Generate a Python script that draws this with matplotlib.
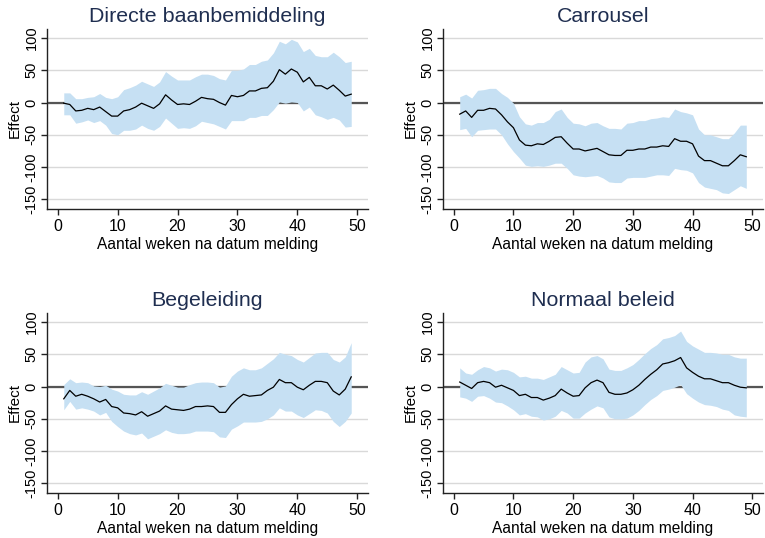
import matplotlib
matplotlib.use("Agg")
import matplotlib.pyplot as plt

plt.rcParams["font.family"] = ["Liberation Sans", "DejaVu Sans"]
plt.rcParams["axes.unicode_minus"] = False

weeks = list(range(1, 50))

titles = ["Directe baanbemiddeling", "Carrousel", "Begeleiding", "Normaal beleid"]

# Directe baanbemiddeling
est_dbb = [-1, -3, -13, -12, -9, -11, -7, -14, -21, -21, -13, -11, -7, -1, -5, -9, -2,
           12, 4, -3, -2, -3, 2, 8, 6, 5, 0, -4, 11, 9, 11, 18, 18, 22, 23, 33, 51, 44,
           52, 47, 32, 39, 26, 26, 21, 27, 19, 10, 13]
hi_dbb = [15, 15, 6, 6, 8, 9, 14, 8, 6, 9, 20, 23, 27, 33, 29, 25, 32, 48, 41, 35, 35,
          35, 40, 44, 44, 42, 37, 35, 50, 50, 52, 59, 59, 64, 66, 77, 95, 91, 98, 94,
          79, 84, 73, 71, 71, 78, 71, 62, 64]
lo_dbb = [-19, -19, -32, -30, -27, -31, -28, -35, -48, -50, -43, -43, -41, -35, -40,
          -43, -37, -24, -32, -40, -39, -40, -36, -29, -31, -33, -37, -41, -28, -28,
          -28, -23, -23, -20, -20, -11, 1, -1, 1, 0, -13, -7, -19, -22, -26, -23, -27,
          -38, -37]

# Carrousel
est_car = [-18, -13, -23, -12, -12, -9, -10, -19, -30, -39, -58, -66, -67, -64, -65,
           -60, -54, -53, -63, -72, -72, -75, -73, -71, -76, -81, -82, -82, -74, -74,
           -72, -72, -69, -69, -67, -68, -56, -60, -60, -64, -83, -90, -90, -94, -98,
           -98, -90, -81, -84]
hi_car = [9, 13, 7, 19, 20, 22, 22, 14, 8, -1, -22, -33, -35, -31, -31, -26, -14, -10,
          -23, -32, -33, -36, -32, -31, -36, -40, -40, -41, -32, -31, -28, -28, -25,
          -24, -22, -23, -10, -14, -16, -19, -41, -50, -50, -53, -56, -56, -47, -35,
          -35]
lo_car = [-42, -40, -53, -43, -42, -41, -41, -50, -64, -76, -86, -97, -99, -98, -99,
          -97, -94, -94, -102, -112, -114, -115, -114, -113, -117, -123, -124, -124,
          -117, -116, -116, -116, -114, -112, -112, -113, -102, -104, -105, -109, -124,
          -131, -133, -135, -140, -141, -135, -129, -133]

# Begeleiding
est_beg = [-19, -6, -15, -12, -15, -19, -24, -20, -31, -33, -41, -42, -44, -39, -46,
           -42, -38, -30, -35, -36, -37, -35, -31, -31, -30, -31, -40, -40, -28, -19,
           -12, -15, -14, -13, -6, -1, 11, 6, 6, -1, -5, 2, 8, 8, 6, -7, -13, -4, 15]
hi_beg = [3, 12, 6, 7, 6, 1, 0, 2, -4, -7, -12, -13, -13, -8, -12, -7, -2, 5, 2, -1,
          -1, 3, 6, 7, 7, 6, -1, 1, 16, 24, 29, 26, 26, 29, 36, 43, 53, 50, 48, 42, 38,
          45, 52, 53, 53, 42, 38, 46, 68]
lo_beg = [-36, -23, -35, -33, -35, -38, -44, -40, -54, -62, -69, -73, -75, -72, -81,
          -77, -73, -67, -71, -73, -73, -72, -69, -69, -69, -70, -78, -79, -66, -61,
          -55, -55, -55, -54, -50, -44, -33, -38, -38, -44, -48, -42, -36, -37, -41,
          -54, -62, -54, -41]

# Normaal beleid
est_nb = [7, 2, -3, 6, 8, 6, -1, 2, -2, -6, -14, -12, -17, -17, -21, -18, -14, -4,
          -10, -15, -14, -2, 6, 10, 6, -9, -12, -12, -10, -5, 2, 11, 19, 26, 35, 37, 40,
          45, 29, 22, 16, 12, 12, 9, 6, 6, 2, -1, -2]
hi_nb = [29, 21, 19, 26, 31, 29, 24, 27, 26, 22, 15, 16, 13, 13, 11, 15, 19, 31, 26,
         21, 22, 38, 46, 48, 43, 27, 25, 25, 29, 34, 42, 51, 59, 65, 74, 76, 79, 86,
         70, 63, 58, 53, 53, 52, 50, 50, 46, 44, 44]
lo_nb = [-16, -18, -23, -15, -14, -18, -24, -25, -30, -36, -44, -42, -46, -47, -52,
         -50, -46, -37, -41, -49, -49, -41, -35, -30, -33, -47, -50, -50, -49, -44,
         -37, -28, -20, -14, -6, -4, -1, 3, -11, -18, -24, -28, -29, -31, -35, -37,
         -44, -46, -47]

series = [(est_dbb, lo_dbb, hi_dbb), (est_car, lo_car, hi_car),
          (est_beg, lo_beg, hi_beg), (est_nb, lo_nb, hi_nb)]

yticks = [100, 50, 0, -50, -100, -150]
xticks = [0, 10, 20, 30, 40, 50]

W, H = 765, 538
# pixel boxes (left, top, right, bottom)
boxes = [(47, 29, 368, 209), (443, 29, 763, 209),
         (47, 313, 368, 493), (443, 313, 763, 493)]

band_color = "#c6e0f3"
title_color = "#1f2e50"

fig = plt.figure(figsize=(W / 100, H / 100), dpi=100)

for (l, t, r, b), title, (est, lo, hi) in zip(boxes, titles, series):
    ax = fig.add_axes([l / W, 1 - b / H, (r - l) / W, (b - t) / H])

    for yv in yticks:
        ax.axhline(yv, color="#d9d9d9", lw=1.0, zorder=0)
    ax.axhline(0, color="#555555", lw=1.6, zorder=1)
    ax.fill_between(weeks, lo, hi, color=band_color, lw=0, zorder=2)
    ax.plot(weeks, est, color="black", lw=0.9, zorder=3)

    ax.set_xlim(-1.8, 51.8)
    ax.set_ylim(-165, 114)
    ax.set_xticks(xticks)
    ax.set_yticks(yticks)

    for side in ["top", "right"]:
        ax.spines[side].set_visible(False)
    for side in ["left", "bottom"]:
        ax.spines[side].set_color("#222222")
        ax.spines[side].set_linewidth(1.0)

    ax.tick_params(axis="x", length=4, width=1.0, color="#222222",
                   labelsize=11.5, pad=3)
    ax.tick_params(axis="y", length=4, width=1.0, color="#222222",
                   labelsize=10.5, pad=2)
    for lab in ax.get_yticklabels():
        lab.set_rotation(90)
        lab.set_va("center")
        lab.set_ha("right")

    ax.set_xlabel("Aantal weken na datum melding", fontsize=11.2, labelpad=2)
    ax.set_ylabel("Effect", fontsize=11, labelpad=2)
    ax.set_title(title, fontsize=15.4, color=title_color, pad=5)

fig.savefig("out.png", dpi=100)
